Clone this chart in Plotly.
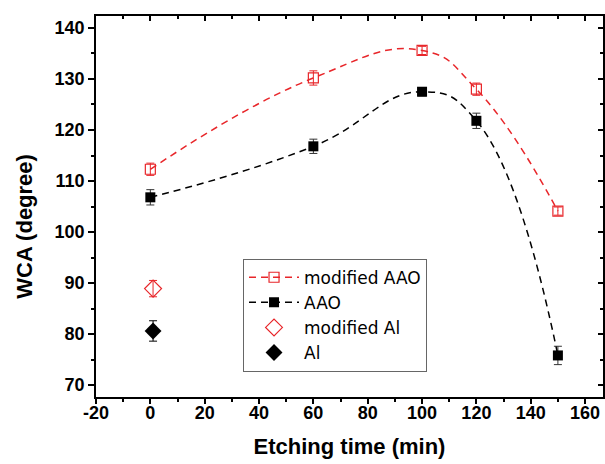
import plotly.graph_objects as go

# Water contact angle vs. etching time
etch_time = [0, 60, 100, 120, 150]
wca_mod_aao = [112.3, 130.2, 135.6, 128.0, 104.1]
err_mod_aao = [1.2, 1.4, 0.8, 1.2, 0.8]
wca_aao = [106.8, 116.8, 127.5, 121.8, 75.8]
err_aao = [1.5, 1.4, 0.8, 1.5, 1.8]

al_time = [1]
wca_mod_al = [88.9]
err_mod_al = [1.6]
wca_al = [80.6]
err_al = [2.0]

x_tickvals = [-20, 0, 20, 40, 60, 80, 100, 120, 140, 160]
x_ticktext = ["-20", "0", "20", "40", "60", "80", "100", "120", "140", "160"]
y_tickvals = [70, 80, 90, 100, 110, 120, 130, 140]
y_ticktext = ["70", "80", "90", "100", "110", "120", "130", "140"]

RED = "#e8262a"
BLACK = "#000000"
FONT = "Liberation Sans, Arial, sans-serif"

fig = go.Figure()

fig.add_trace(go.Scatter(
    x=etch_time, y=wca_mod_aao, name="modified AAO", mode="lines+markers",
    line=dict(color=RED, width=1.5, dash="7px,5px", shape="spline", smoothing=1.3),
    marker=dict(symbol="square-open", size=10, color=RED, line=dict(width=1.2)),
    error_y=dict(type="data", array=err_mod_aao, color=RED, thickness=1, width=4),
))
fig.add_trace(go.Scatter(
    x=etch_time, y=wca_aao, name="AAO", mode="lines+markers",
    line=dict(color=BLACK, width=1.5, dash="7px,5px", shape="spline", smoothing=1.3),
    marker=dict(symbol="square", size=10, color=BLACK),
    error_y=dict(type="data", array=err_aao, color="#333333", thickness=1, width=4),
))
fig.add_trace(go.Scatter(
    x=al_time, y=wca_mod_al, name="modified Al", mode="markers",
    marker=dict(symbol="diamond-open", size=13, color=RED, line=dict(width=1.2)),
    error_y=dict(type="data", array=err_mod_al, color=RED, thickness=1, width=4),
))
fig.add_trace(go.Scatter(
    x=al_time, y=wca_al, name="Al", mode="markers",
    marker=dict(symbol="diamond", size=13, color=BLACK),
    error_y=dict(type="data", array=err_al, color=BLACK, thickness=1, width=4),
))
# empty trace that hosts the mirrored top/right frame axes
fig.add_trace(go.Scatter(x=[], y=[], xaxis="x2", yaxis="y2", showlegend=False,
                         hoverinfo="skip"))

x_range = [-20, 166.6]
y_range = [67.65, 142.35]
tick_font = dict(family=FONT, size=18, color="black", weight="bold")

fig.update_layout(
    width=605, height=464,
    margin=dict(l=96, r=2, t=16, b=67),
    paper_bgcolor="white", plot_bgcolor="white",
    font=dict(family=FONT, color="black"),
    showlegend=True,
    legend=dict(
        x=0.29, y=0.363, xanchor="left", yanchor="top",
        bordercolor="#666666", borderwidth=1, bgcolor="white",
        font=dict(family="DejaVu Sans, sans-serif", size=17, color="black"),
        itemwidth=50,
    ),
    xaxis=dict(
        range=x_range, tickmode="array", tickvals=x_tickvals, ticktext=x_ticktext,
        ticks="outside", ticklen=5, tickwidth=1.5, tickcolor="black",
        minor=dict(dtick=10, tick0=0, ticks="outside", ticklen=3, tickwidth=1.5,
                   tickcolor="black"),
        showline=True, linecolor="black", linewidth=1.5,
        showgrid=False, zeroline=False,
        tickfont=tick_font, ticklabelstandoff=-6,
        title=dict(text="<b>Etching time (min)</b>", font=dict(family=FONT, size=22),
                   standoff=16),
    ),
    yaxis=dict(
        range=y_range, tickmode="array", tickvals=y_tickvals, ticktext=y_ticktext,
        ticks="outside", ticklen=6, tickwidth=1.5, tickcolor="black",
        minor=dict(dtick=5, tick0=0, ticks="outside", ticklen=3, tickwidth=1.5,
                   tickcolor="black"),
        showline=True, linecolor="black", linewidth=1.5,
        showgrid=False, zeroline=False,
        tickfont=tick_font,
    ),
    xaxis2=dict(
        range=x_range, dtick=20, tick0=0, overlaying="x", side="top", anchor="y2",
        ticks="inside", ticklen=5, tickwidth=1.5, tickcolor="black",
        minor=dict(dtick=10, ticks="inside", ticklen=3, tickwidth=1.5, tickcolor="black"),
        showline=True, linecolor="black", linewidth=1.5,
        showgrid=False, zeroline=False, showticklabels=False,
    ),
    yaxis2=dict(
        range=y_range, dtick=10, tick0=0, overlaying="y", side="right", anchor="x2",
        ticks="inside", ticklen=5, tickwidth=1.5, tickcolor="black",
        minor=dict(dtick=5, ticks="inside", ticklen=3, tickwidth=1.5, tickcolor="black"),
        showline=True, linecolor="black", linewidth=1.5,
        showgrid=False, zeroline=False, showticklabels=False,
    ),
    annotations=[dict(
        text="<b>WCA (degree)</b>", textangle=-90, showarrow=False,
        xref="paper", yref="paper", x=-0.14, y=0.447, xanchor="center", yanchor="middle",
        font=dict(family=FONT, size=22, color="black"),
    )],
)

fig.write_html("out.html")
